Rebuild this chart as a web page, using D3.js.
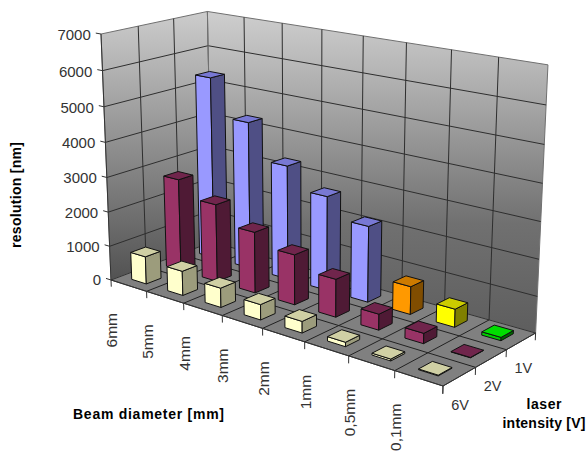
<!DOCTYPE html>
<html>
<head>
<meta charset="utf-8">
<script src="https://d3js.org/d3.v7.min.js"></script>
<style>
html, body { margin: 0; padding: 0; background: #fff; }
text { font-family: "Liberation Sans", Arial, sans-serif; fill: #333; }
.title { font-weight: bold; fill: #000; }
</style>
</head>
<body>
<div id="chart"></div>
<script>
// data
var diameters = ["6mm", "5mm", "4mm", "3mm", "2mm", "1mm", "0,5mm", "0,1mm"];
var intensities = ["6V", "2V", "1V"];
var valueTicks = [0, 1000, 2000, 3000, 4000, 5000, 6000, 7000];
var values6V = [800, 700, 550, 430, 320, 120, 50, 20];
var values2V = [2700, 2250, 1750, 1420, 1060, 440, 280, 10];
var values1V = [5370, 4300, 3300, 2700, 2150, 780, 500, 90];
var seriesValues = [values6V, values2V, values1V];

// colours: [front, side, top]
var cream = ["#ffffcc", "#9c9c7c", "#d0d0a4"];
var purple = ["#993366", "#4f1a35", "#70254c"];
var blue = ["#9999ff", "#4f4f85", "#7878d4"];
var orange = ["#ff9900", "#804d00", "#cc7a00"];
var yellow = ["#ffff00", "#808000", "#cccc00"];
var green = ["#00cc00", "#006600", "#00dd00"];
var seriesColors = [
  diameters.map(function() { return cream; }),
  diameters.map(function() { return purple; }),
  [blue, blue, blue, blue, blue, orange, yellow, green]
];

var width = 588, height = 455;

// floor corners of the plot box on screen and the vanishing point of the verticals
var floor = [[111, 280], [443, 386], [535.6, 333], [212, 242]];
var vanish = [311, 5206];
var wallScale = -0.04756;

var x0 = floor[0][0], y0 = floor[0][1], x1 = floor[1][0], y1 = floor[1][1];
var x2 = floor[2][0], y2 = floor[2][1], x3 = floor[3][0], y3 = floor[3][1];
var sx = x0 - x1 + x2 - x3, sy = y0 - y1 + y2 - y3;
var dx1 = x1 - x2, dx2 = x3 - x2, dy1 = y1 - y2, dy2 = y3 - y2;
var den = dx1 * dy2 - dx2 * dy1;
var g = (sx * dy2 - dx2 * sy) / den, h = (dx1 * sy - sx * dy1) / den;
var a = x1 - x0 + g * x1, b = x3 - x0 + h * x3;
var d = y1 - y0 + g * y1, e = y3 - y0 + h * y3;

// u along the diameters, v along the intensities, t up the value axis
function project(u, v, t) {
  var k = t * wallScale;
  var w = g * u + h * v + 1 + k;
  return [(a * u + b * v + x0 + k * vanish[0]) / w, (d * u + e * v + y0 + k * vanish[1]) / w];
}

var xBand = d3.scaleBand().domain(diameters).range([0, 1]);
var zBand = d3.scaleBand().domain(intensities).range([0, 1]);
var yScale = d3.scaleLinear().domain([0, 7000]).range([0, 1]);

var svg = d3.select("#chart").append("svg")
  .attr("width", width)
  .attr("height", height)
  .style("display", "block");

var defs = svg.append("defs");
function wallGradient(id, y1, y2, stops) {
  var grad = defs.append("linearGradient")
    .attr("id", id)
    .attr("gradientUnits", "userSpaceOnUse")
    .attr("x1", 0).attr("x2", 0).attr("y1", y1).attr("y2", y2);
  stops.forEach(function(s) {
    grad.append("stop").attr("offset", s[0]).attr("stop-color", s[1]);
  });
}
wallGradient("leftWall", 12, 280, [[0, "#cccccc"], [1, "#525252"]]);
wallGradient("backWall", 12, 333, [[0, "#cecece"], [0.165, "#b8b8b8"], [0.66, "#707070"], [1, "#5e5e5e"]]);

var line = d3.line();
function poly(pts, fill, stroke, sw) {
  return svg.append("path")
    .attr("d", line(pts) + "Z")
    .attr("fill", fill)
    .attr("stroke", stroke)
    .attr("stroke-width", sw)
    .attr("stroke-linejoin", "round");
}
function seg(p, q, stroke, sw) {
  return svg.append("path")
    .attr("d", line([p, q]))
    .attr("fill", "none")
    .attr("stroke", stroke)
    .attr("stroke-width", sw);
}

// walls and floor
poly([project(0, 0, 0), project(0, 1, 0), project(0, 1, 1), project(0, 0, 1)], "url(#leftWall)", "#707070", 1);
poly([project(0, 1, 0), project(1, 1, 0), project(1, 1, 1), project(0, 1, 1)], "url(#backWall)", "#707070", 1);
poly([project(0, 0, 0), project(1, 0, 0), project(1, 1, 0), project(0, 1, 0)], "#808080", "#333", 1);

var gridColor = "#2e2e2e";
valueTicks.forEach(function(t) {
  var f = yScale(t);
  if (t > 0 && t < 7000) {
    seg(project(0, 0, f), project(0, 1, f), gridColor, 1);
    seg(project(0, 1, f), project(1, 1, f), gridColor, 1);
  }
});
diameters.forEach(function(c, i) {
  if (i == 0) return;
  var u = xBand(c);
  seg(project(u, 1, 0), project(u, 1, 1), gridColor, 1);
  seg(project(u, 0, 0), project(u, 1, 0), "#222", 1);
});
intensities.forEach(function(s, i) {
  if (i == 0) return;
  var v = zBand(s);
  seg(project(0, v, 0), project(0, v, 1), gridColor, 1);
  seg(project(0, v, 0), project(1, v, 0), "#222", 1);
});
seg(project(0, 1, 0), project(0, 1, 1), "#707070", 1);
seg(project(0, 0, 0), project(0, 0, 1), "#333", 1);
seg(project(0, 0, 0), project(1, 0, 0), "#333", 1);
seg(project(1, 0, 0), project(1, 1, 0), "#333", 1);

// bars, back row first and left to right so nearer boxes cover the others
var barFrac = 0.41, depthFrac = 0.42;
var rows = d3.range(intensities.length).reverse();
rows.forEach(function(si) {
  diameters.forEach(function(c, ci) {
    var val = seriesValues[si][ci];
    var cols = seriesColors[si][ci];
    var ul = xBand(c) + xBand.bandwidth() * (1 - barFrac) / 2;
    var ur = ul + xBand.bandwidth() * barFrac;
    var vf = zBand(intensities[si]) + zBand.bandwidth() * (1 - depthFrac) / 2;
    var vb = vf + zBand.bandwidth() * depthFrac;
    var top = yScale(val);
    poly([project(ul, vf, 0), project(ur, vf, 0), project(ur, vf, top), project(ul, vf, top)], cols[0], "#111", 1);
    poly([project(ur, vf, 0), project(ur, vb, 0), project(ur, vb, top), project(ur, vf, top)], cols[1], "#111", 1);
    poly([project(ul, vf, top), project(ur, vf, top), project(ur, vb, top), project(ul, vb, top)], cols[2], "#111", 1);
  });
});

// value axis
valueTicks.forEach(function(t) {
  var f = yScale(t);
  var p = project(0, 0, f);
  var q = project(-0.018, 0, f);
  seg(p, q, "#333", 1);
  svg.append("text")
    .attr("x", q[0] - 5)
    .attr("y", q[1] + 7)
    .attr("text-anchor", "end")
    .attr("font-size", 15)
    .text(d3.format("d")(t));
});

// diameter axis
var tickDrop = yScale(-200);
diameters.forEach(function(c) {
  var u = xBand(c);
  seg(project(u, 0, 0), project(u, 0, tickDrop), "#333", 1);
  var p = project(u, 0, 0);
  svg.append("text")
    .attr("transform", "translate(" + (p[0] + 6) + "," + (p[1] + 33) + ") rotate(-90)")
    .attr("text-anchor", "end")
    .attr("font-size", 15.5)
    .text(c);
});
seg(project(1, 0, 0), project(1, 0, tickDrop), "#333", 1);

// intensity axis
intensities.forEach(function(s) {
  var v = zBand(s);
  seg(project(1, v, 0), project(1, v, tickDrop), "#333", 1);
  var p = project(1, v, 0);
  svg.append("text")
    .attr("x", p[0] + 17)
    .attr("y", p[1] + 23.5)
    .attr("text-anchor", "middle")
    .attr("font-size", 14.5)
    .text(s);
});
seg(project(1, 1, 0), project(1, 1, tickDrop), "#333", 1);

// axis titles
svg.append("text").attr("class", "title")
  .attr("x", 73).attr("y", 419)
  .attr("font-size", 14).attr("textLength", 151)
  .text("Beam diameter [mm]");
svg.append("text").attr("class", "title")
  .attr("x", 544).attr("y", 409)
  .attr("text-anchor", "middle").attr("font-size", 14).attr("textLength", 35)
  .text("laser");
svg.append("text").attr("class", "title")
  .attr("x", 544).attr("y", 428)
  .attr("text-anchor", "middle").attr("font-size", 14).attr("textLength", 83)
  .text("intensity [V]");
svg.append("text").attr("class", "title")
  .attr("transform", "translate(21,248) rotate(-90)")
  .attr("font-size", 14).attr("textLength", 106)
  .text("resolution [nm]");
</script>
</body>
</html>
